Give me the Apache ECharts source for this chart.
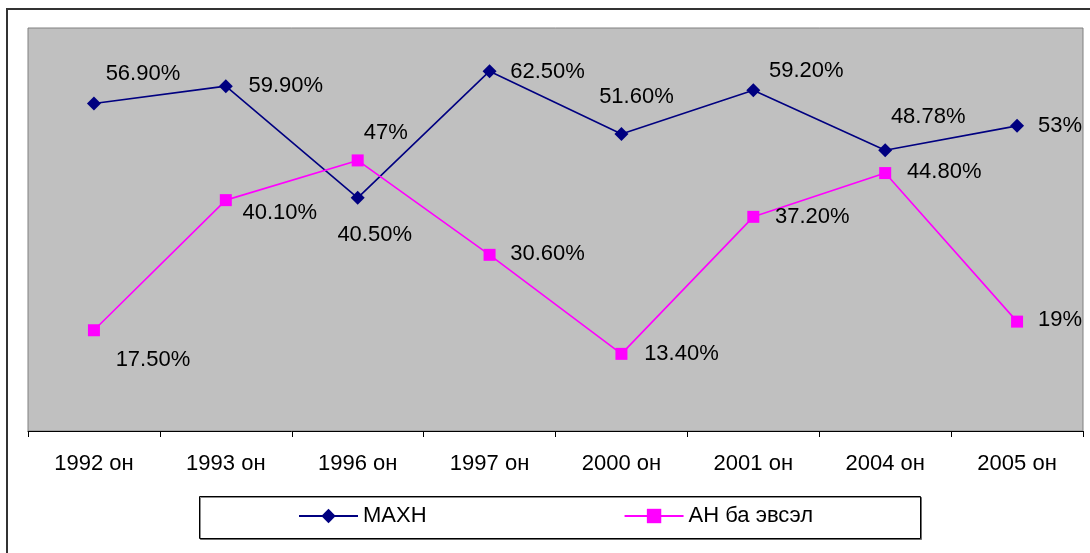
<!DOCTYPE html>
<html>
<head>
<meta charset="utf-8">
<script src="https://cdn.jsdelivr.net/npm/echarts@6/dist/echarts.min.js"></script>
<style>
  html, body { margin: 0; padding: 0; background: #fff; }
  #chart { width: 1090px; height: 553px; }
</style>
</head>
<body>
<div id="chart"></div>
<script>
// data
const years = ['1992 он', '1993 он', '1996 он', '1997 он', '2000 он', '2001 он', '2004 он', '2005 он']
const maxhValues = [56.9, 59.9, 40.5, 62.5, 51.6, 59.2, 48.78, 53]
const anValues = [17.5, 40.1, 47, 30.6, 13.4, 37.2, 44.8, 19]
const maxhLabels = ['56.90%', '59.90%', '40.50%', '62.50%', '51.60%', '59.20%', '48.78%', '53%']
const anLabels = ['17.50%', '40.10%', '47%', '30.60%', '13.40%', '37.20%', '44.80%', '19%']

// where each label sits relative to its point (centre offset, px)
const maxhLabelOffsets = [[49, -29], [60, 0], [17, 37], [58, 1], [15, -37], [53, -19], [43, -33], [43, 0]]
const anLabelOffsets = [[59, 30], [54, 13], [28, -27], [58, -1], [60, 0], [59, 0], [59, -1], [43, -2]]

const font = 'Liberation Sans, Arial, sans-serif'

function buildData(values, labels, offsets){
    return values.map((v, i) => ({
        value: v,
        label: {
            show: true,
            position: 'inside',
            offset: offsets[i],
            formatter: labels[i]
        }
    }))
}

const chart = echarts.init(document.getElementById('chart'))
const option = {
    animation: false,
    backgroundColor: '#fff',
    textStyle: { fontFamily: font },
    grid: {
        left: 28, right: 7, top: 28, bottom: 122,
        show: true,
        backgroundColor: '#C0C0C0',
        borderColor: '#808080',
        borderWidth: 1
    },
    xAxis: {
        type: 'category',
        data: years,
        boundaryGap: true,
        axisLine: { lineStyle: { color: '#000', width: 1 } },
        axisTick: { show: true, length: 6, inside: false, lineStyle: { color: '#000' } },
        axisLabel: { color: '#000', fontSize: 22, fontFamily: font, margin: 22 },
        splitLine: { show: false }
    },
    yAxis: {
        type: 'value',
        min: 0, max: 70,
        show: false,
        splitLine: { show: false }
    },
    legend: {
        left: 298,
        top: 505,
        padding: 0,
        itemWidth: 59,
        itemHeight: 18,
        itemGap: 197,
        textStyle: { color: '#000', fontSize: 22, fontFamily: font },
        data: ['МАХН', 'АН ба эвсэл']
    },
    graphic: [
        {
            type: 'rect',
            silent: true,
            shape: { x: 7, y: 9, width: 1200, height: 700 },
            style: { fill: 'none', stroke: '#333', lineWidth: 2 }
        },
        {
            type: 'rect',
            silent: true,
            z: -1,
            shape: { x: 199.5, y: 496.5, width: 721, height: 42 },
            style: {
                fill: '#fff', stroke: '#000', lineWidth: 1,
                shadowColor: 'rgba(0,0,0,0.45)', shadowOffsetX: 1, shadowOffsetY: 1, shadowBlur: 0
            }
        }
    ],
    series: [
        {
            name: 'МАХН',
            type: 'line',
            data: buildData(maxhValues, maxhLabels, maxhLabelOffsets),
            symbol: 'diamond',
            symbolSize: 14,
            lineStyle: { color: '#000080', width: 1.6 },
            itemStyle: { color: '#000080' },
            label: { color: '#000', fontSize: 22, fontFamily: font }
        },
        {
            name: 'АН ба эвсэл',
            type: 'line',
            data: buildData(anValues, anLabels, anLabelOffsets),
            symbol: 'rect',
            symbolSize: 12,
            lineStyle: { color: '#FF00FF', width: 1.6 },
            itemStyle: { color: '#FF00FF' },
            label: { color: '#000', fontSize: 22, fontFamily: font }
        }
    ]
}
chart.setOption(option)
</script>
</body>
</html>
